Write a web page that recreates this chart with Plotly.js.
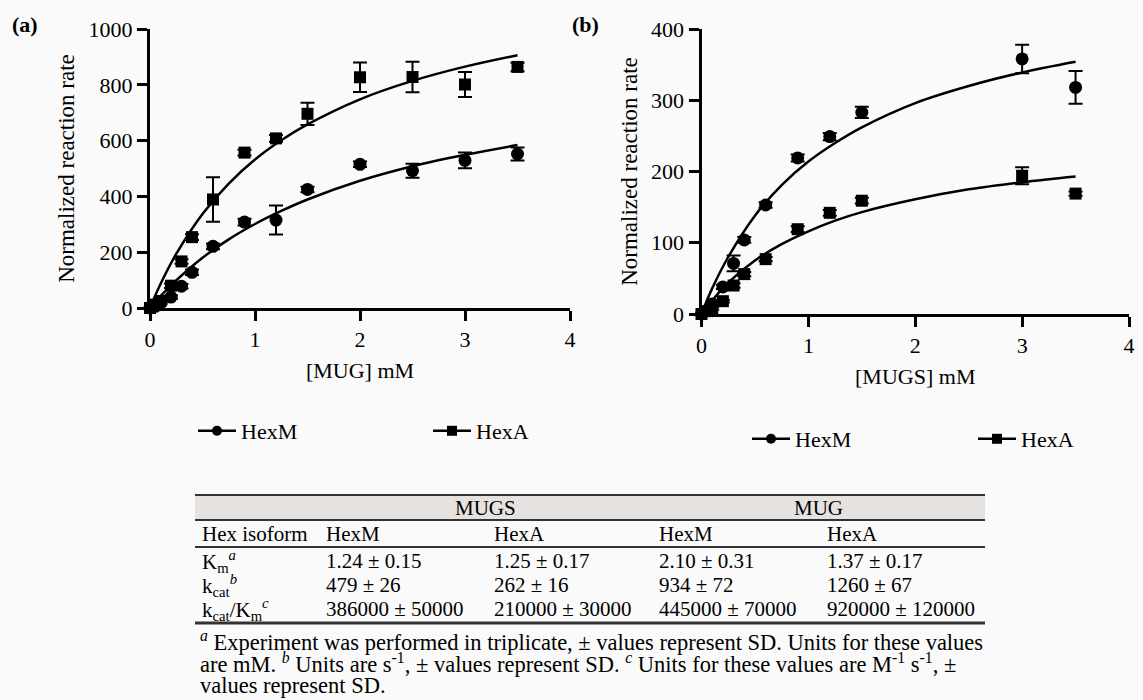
<!DOCTYPE html>
<html>
<head>
<meta charset="utf-8">
<script src="https://cdn.plot.ly/plotly-3.0.1.min.js"></script>
<style>html,body{margin:0;padding:0;background:#fafafa;}#chart{width:1143px;height:700px;}</style>
</head>
<body>
<div id="chart"></div>
<script>
// ---------- data: panel (a) [MUG] ----------
const mugX = [0, 0.05, 0.1, 0.2, 0.3, 0.4, 0.6, 0.9, 1.2, 1.5, 2, 2.5, 3, 3.5];
const mugHexA = [0, 12, 25, 80, 167, 254, 389, 557, 608, 696, 827, 828, 801, 864];
const mugHexAErr = [4, 5, 6, 8, 8, 10, 80, 10, 12, 40, 53, 55, 45, 15];
const mugHexM = [0, 6, 18, 39, 78, 128, 221, 308, 315, 425, 515, 492, 529, 552];
const mugHexMErr = [3, 4, 5, 6, 8, 10, 10, 12, 52, 10, 10, 25, 28, 23];
// fitted curves
const fitX = [0, 0.1, 0.25, 0.5, 0.75, 1, 1.25, 1.5, 2, 2.5, 3, 3.5];
const mugFitHexA = [0, 86, 194, 337, 446, 532, 601, 658, 748, 814, 865, 906];
const mugFitHexM = [0, 43, 99, 180, 246, 301, 348, 389, 456, 508, 549, 584];

// ---------- data: panel (b) [MUGS] ----------
const mugsX = [0, 0.05, 0.1, 0.2, 0.3, 0.4, 0.6, 0.9, 1.2, 1.5, 3, 3.5];
const mugsHexM = [0, 5, 14, 38, 71, 104, 153, 219, 249, 283, 358, 318];
const mugsHexMErr = [1, 2, 2, 3, 11, 4, 4, 5, 5, 8, 20, 23];
const mugsHexA = [0, 4, 8, 18, 40, 56, 77, 119, 142, 159, 194, 169];
const mugsHexAErr = [1, 1, 2, 2, 3, 3, 3, 4, 4, 4, 12, 3];
const mugsFitHexM = [0, 36, 80, 138, 181, 214, 240, 262, 296, 320, 339, 354];
const mugsFitHexA = [0, 19, 44, 75, 98, 116, 131, 143, 161, 175, 185, 193];

// ---------- tick labels ----------
const xTicks = [0, 1, 2, 3, 4];
const yTicksA = [0, 200, 400, 600, 800, 1000];
const yTicksB = [0, 100, 200, 300, 400];

// ---------- table ----------
const tableGroups = ['MUGS', 'MUG'];
const tableHeader = ['Hex isoform', 'HexM', 'HexA', 'HexM', 'HexA'];
const rowLabels = ['K<sub>m</sub><sup><i>a</i></sup>', 'k<sub>cat</sub><sup><i>b</i></sup>', 'k<sub>cat</sub>/K<sub>m</sub><sup><i>c</i></sup>'];
const kmValues = ['1.24 ± 0.15', '1.25 ± 0.17', '2.10 ± 0.31', '1.37 ± 0.17'];
const kcatValues = ['479 ± 26', '262 ± 16', '934 ± 72', '1260 ± 67'];
const effValues = ['386000 ± 50000', '210000 ± 30000', '445000 ± 70000', '920000 ± 120000'];
const footnotes = [
  '<sup><i>a</i></sup> Experiment was performed in triplicate, ± values represent SD. Units for these values',
  'are mM. <sup><i>b</i></sup> Units are s<sup>-1</sup>, ± values represent SD. <sup><i>c</i></sup> Units for these values are M<sup>-1</sup> s<sup>-1</sup>, ±',
  'values represent SD.'
];

const W = 1143, H = 700;
const X = px => px / W;
const Y = py => 1 - py / H;
const FONT = 'Liberation Serif, Times New Roman, serif';

function pts(x, y, err, sym, xa, ya, name) {
  return {
    type: 'scatter', mode: 'markers', x: x, y: y, xaxis: xa, yaxis: ya, name: name,
    showlegend: false, cliponaxis: false,
    marker: {symbol: sym, size: sym === 'square' ? 12 : 13, color: 'black'},
    error_y: {type: 'data', array: err, visible: true, color: 'black', thickness: 2, width: 7}
  };
}
function fit(x, y, xa, ya) {
  return {type: 'scatter', mode: 'lines', x: x, y: y, xaxis: xa, yaxis: ya, showlegend: false,
    line: {color: 'black', width: 2.5, shape: 'spline'}, hoverinfo: 'skip'};
}
function leg(name, sym, legendId) {
  return {type: 'scatter', mode: 'lines+markers', x: [null], y: [null], name: name, legend: legendId,
    line: {color: 'black', width: 2.5}, marker: {symbol: sym, size: 10, color: 'black'}};
}

const traces = [
  fit(fitX, mugFitHexA, 'x', 'y'),
  fit(fitX, mugFitHexM, 'x', 'y'),
  pts(mugX, mugHexA, mugHexAErr, 'square', 'x', 'y', 'HexA'),
  pts(mugX, mugHexM, mugHexMErr, 'circle', 'x', 'y', 'HexM'),
  fit(fitX, mugsFitHexM, 'x2', 'y2'),
  fit(fitX, mugsFitHexA, 'x2', 'y2'),
  pts(mugsX, mugsHexA, mugsHexAErr, 'square', 'x2', 'y2', 'HexA'),
  pts(mugsX, mugsHexM, mugsHexMErr, 'circle', 'x2', 'y2', 'HexM'),
  leg('HexM', 'circle', 'legend'),
  leg('HexA', 'square', 'legend2'),
  leg('HexM', 'circle', 'legend3'),
  leg('HexA', 'square', 'legend4')
];

function axisX(domain, title, anchor) {
  return {domain: domain, anchor: anchor, range: [0, 4], tickvals: xTicks, ticktext: xTicks.map(String),
    showline: true, linecolor: 'black', linewidth: 3, ticks: 'outside', ticklen: 10, tickwidth: 3, tickcolor: 'black',
    showgrid: false, zeroline: false, tickfont: {family: FONT, size: 22, color: 'black'},
    title: {text: title, font: {family: FONT, size: 22, color: 'black'}, standoff: 12}};
}
function axisY(domain, range, ticks, anchor) {
  return {domain: domain, anchor: anchor, range: range, tickvals: ticks, ticktext: ticks.map(String),
    showline: true, linecolor: 'black', linewidth: 3, ticks: 'outside', ticklen: 10, tickwidth: 3, tickcolor: 'black',
    showgrid: false, zeroline: false, tickfont: {family: FONT, size: 22, color: 'black'},
    title: {text: 'Normalized reaction rate', font: {family: FONT, size: 23, color: 'black'}, standoff: 8}};
}
function legendAt(px, py) {
  return {x: X(px), y: Y(py), xanchor: 'left', yanchor: 'middle', orientation: 'h', bgcolor: 'rgba(0,0,0,0)',
    borderwidth: 0, itemwidth: 38, font: {family: FONT, size: 22, color: 'black'}};
}

const annotations = [];
const shapes = [];
const tf = {family: FONT, size: 21, color: 'black'};
function txt(text, px, py, anchor, font) {
  annotations.push({text: text, x: X(px), y: Y(py), xref: 'paper', yref: 'paper', showarrow: false,
    xanchor: anchor || 'left', yanchor: 'middle', font: font || tf});
}
// panel labels
txt('<b>(a)</b>', 10, 25, 'left', {family: FONT, size: 22, color: 'black'});
txt('<b>(b)</b>', 570, 25, 'left', {family: FONT, size: 22, color: 'black'});

// table geometry
const tL = 195, tR = 985;
const colX = [200, 324, 492, 657, 825];
shapes.push({type: 'rect', xref: 'paper', yref: 'paper', x0: X(tL), x1: X(tR), y0: Y(495), y1: Y(520), fillcolor: '#e6e2df', line: {width: 0}, layer: 'below'});
[[495, 2], [520, 2], [547, 2], [623, 3]].forEach(([py, w]) => {
  shapes.push({type: 'line', xref: 'paper', yref: 'paper', x0: X(tL), x1: X(tR), y0: Y(py), y1: Y(py), line: {color: '#333', width: w}});
});
txt(tableGroups[0], 485, 508, 'center');
txt(tableGroups[1], 818, 508, 'center');
tableHeader.forEach((h, i) => txt(h, colX[i], 534));
const rowsY = [561, 585, 609];
[kmValues, kcatValues, effValues].forEach((vals, r) => {
  txt(rowLabels[r], colX[0], rowsY[r]);
  vals.forEach((v, i) => txt(v, colX[i + 1], rowsY[r]));
});
const footY = [641, 663, 685];
footnotes.forEach((f, i) => txt(f, 198, footY[i], 'left', {family: FONT, size: 22.5, color: 'black'}));

const layout = {
  width: W, height: H, margin: {l: 0, r: 0, t: 0, b: 0},
  paper_bgcolor: '#fafafa', plot_bgcolor: 'rgba(0,0,0,0)',
  font: {family: FONT, color: 'black'},
  xaxis: axisX([X(150), X(570)], '[MUG] mM', 'y'),
  yaxis: axisY([Y(308), Y(29)], [0, 1000], yTicksA, 'x'),
  xaxis2: axisX([X(701.5), X(1129)], '[MUGS] mM', 'y2'),
  yaxis2: axisY([Y(314), Y(29)], [0, 400], yTicksB, 'x2'),
  legend: legendAt(193, 431),
  legend2: legendAt(428, 431),
  legend3: legendAt(747, 439),
  legend4: legendAt(973, 439),
  shapes: shapes,
  annotations: annotations
};

Plotly.newPlot('chart', traces, layout, {staticPlot: true, displayModeBar: false});
</script>
</body>
</html>
